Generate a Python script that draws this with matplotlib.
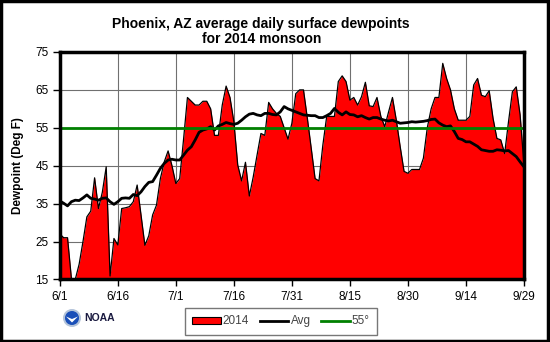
import matplotlib
matplotlib.use('Agg')
import matplotlib.pyplot as plt
from matplotlib.patches import Patch, Ellipse, Rectangle, Polygon
from matplotlib.lines import Line2D

plt.rcParams['font.family'] = ['Liberation Sans', 'DejaVu Sans']

# days since 6/1
days = list(range(121))

dew_2014 = [27, 26, 26, 15.3, 15, 19, 25, 31.5, 33, 41.8,
            33.7, 38, 44.7, 15.9, 25.8, 24.1, 33.7, 33.9, 34.2, 35.5,
            39.9, 32, 24, 26.5, 32, 34.6, 41.6, 46, 48.9, 45,
            40.3, 41.6, 52, 63, 62, 61, 61, 62, 62, 60,
            53, 53, 61, 66, 63, 56.6, 45.2, 41, 45.9, 37,
            42, 47.8, 53.5, 53, 61.7, 60, 58.8, 58, 55, 52,
            56.2, 64, 65, 65, 57.5, 49.6, 41.6, 41, 50.4, 58,
            58, 58, 67.2, 68.7, 67.2, 62.3, 63, 61, 63.2, 67,
            60.8, 60.6, 63, 58, 55.3, 59.2, 63, 57, 50, 43.5,
            43, 44, 44, 44, 47, 55, 60, 63, 63, 72,
            68, 65, 60, 57, 57, 57, 58, 66.3, 68, 63.6,
            63.2, 64.8, 57.5, 52.2, 51.8, 48.2, 56.6, 64.5, 65.8, 58.4,
            45.2]

dew_avg = [35.7, 35.1, 34.4, 35.5, 35.9, 35.8, 36.5, 37.3, 36.4, 36.2,
           35.9, 36.4, 36.5, 35.5, 34.8, 35.5, 36.4, 36.5, 36.4, 37.4,
           37.1, 38.1, 39.5, 40.6, 40.8, 42.5, 44.3, 45.6, 46.5, 46.7,
           46.5, 46.5, 47.8, 49.1, 50, 51.8, 53.8, 54.4, 54.7, 55.3,
           54.4, 55.5, 55.9, 56.4, 56.1, 55.9, 56.2, 57, 57.9, 58.6,
           58.8, 58.4, 58.2, 58.8, 58.8, 58.5, 58.4, 59.2, 60.6, 60,
           59.6, 59.2, 58.8, 58.4, 58.3, 58.2, 58.2, 57.7, 57.7, 58.2,
           58.8, 60.1, 59.1, 58.4, 59.2, 58.5, 58.4, 57.9, 58.2, 57.7,
           57.3, 57.7, 57.7, 57.3, 57, 56.8, 57, 56.6, 56.2, 56.3,
           56.4, 56.6, 56.5, 56.6, 56.7, 56.9, 57.2, 57.3, 56.3, 55.7,
           55.3, 55.5, 54, 52.2, 51.9, 51.3, 51.3, 50.7, 50.1, 49.2,
           49, 48.8, 48.8, 49.2, 49.1, 48.9, 49, 48.2, 47.4, 46,
           44.7]

threshold = 55
tick_days = [0, 15, 30, 45, 60, 75, 90, 105, 120]
tick_labels = ['6/1', '6/16', '7/1', '7/16', '7/31', '8/15', '8/30', '9/14', '9/29']
y_ticks = [15, 25, 35, 45, 55, 65, 75]

W, H = 550, 342
fig = plt.figure(figsize=(5.5, 3.42), dpi=100)
ax = fig.add_axes([0.1087, 0.183, 0.844, 0.665])

ax.fill_between(days, dew_2014, 15, color='#ff0000', linewidth=0, zorder=2)
ax.plot(days, dew_2014, color='black', linewidth=0.9, zorder=3)
ax.plot(days, dew_avg, color='black', linewidth=2, zorder=4)
ax.axhline(threshold, color='#008000', linewidth=2, zorder=5)

ax.set_xlim(0, 120)
ax.set_ylim(15, 75)
ax.set_xticks(tick_days)
ax.set_xticklabels(tick_labels)
ax.set_yticks(y_ticks)
ax.tick_params(labelsize=8.5, length=5, width=1, direction='out', pad=3)
ax.grid(True, color='#707070', linewidth=0.8, zorder=1)
ax.set_axisbelow(True)
for s in ax.spines.values():
    s.set_linewidth(2.5)
    s.set_zorder(6)

fig.text(0.475, 0.908, 'Phoenix, AZ average daily surface dewpoints\nfor 2014 monsoon',
         ha='center', va='center', fontsize=10, fontweight='bold', linespacing=1.15)
fig.text(0.033, 0.515, 'Dewpoint (Deg F)', rotation=90, ha='center', va='center',
         fontsize=8.5, fontweight='bold')

handles = [Patch(facecolor='#ff0000', edgecolor='black', linewidth=0.8),
           Line2D([], [], color='black', linewidth=2),
           Line2D([], [], color='#008000', linewidth=2)]
leg = fig.legend(handles, ['2014', 'Avg', '55°'], loc='center', ncol=3,
                 bbox_to_anchor=(0.511, 0.06), fontsize=8.5, frameon=True,
                 fancybox=False, edgecolor='#555555', handlelength=2.4,
                 handleheight=0.6, handletextpad=0.2, columnspacing=0.9,
                 borderpad=0.6)
leg.get_frame().set_linewidth(1)
for t in leg.get_texts():
    t.set_color('#444444')

# NOAA logo (rough)
lx, ly = 72 / W, 1 - 318 / H
fig.add_artist(Ellipse((lx, ly), 18 / W, 18 / H, transform=fig.transFigure,
                       facecolor='#b4c4da', edgecolor='none'))
fig.add_artist(Ellipse((lx, ly), 14 / W, 14 / H, transform=fig.transFigure,
                       facecolor='#1a4fb8', edgecolor='none'))
fig.add_artist(Polygon([(lx - 6 / W, ly + 1.5 / H), (lx, ly - 4.5 / H),
                        (lx + 6 / W, ly + 1.5 / H), (lx, ly - 1 / H)], closed=True,
                       transform=fig.transFigure, facecolor='white', edgecolor='none'))
fig.text(84 / W, ly, 'NOAA', ha='left', va='center', fontsize=7.5, fontweight='bold',
         color='#1a1a40')

# outer frame
fig.add_artist(Rectangle((0.002, 0.003), 0.994, 0.994, transform=fig.transFigure,
                         fill=False, edgecolor='black', linewidth=2.5))

fig.savefig('out.png', dpi=100)
